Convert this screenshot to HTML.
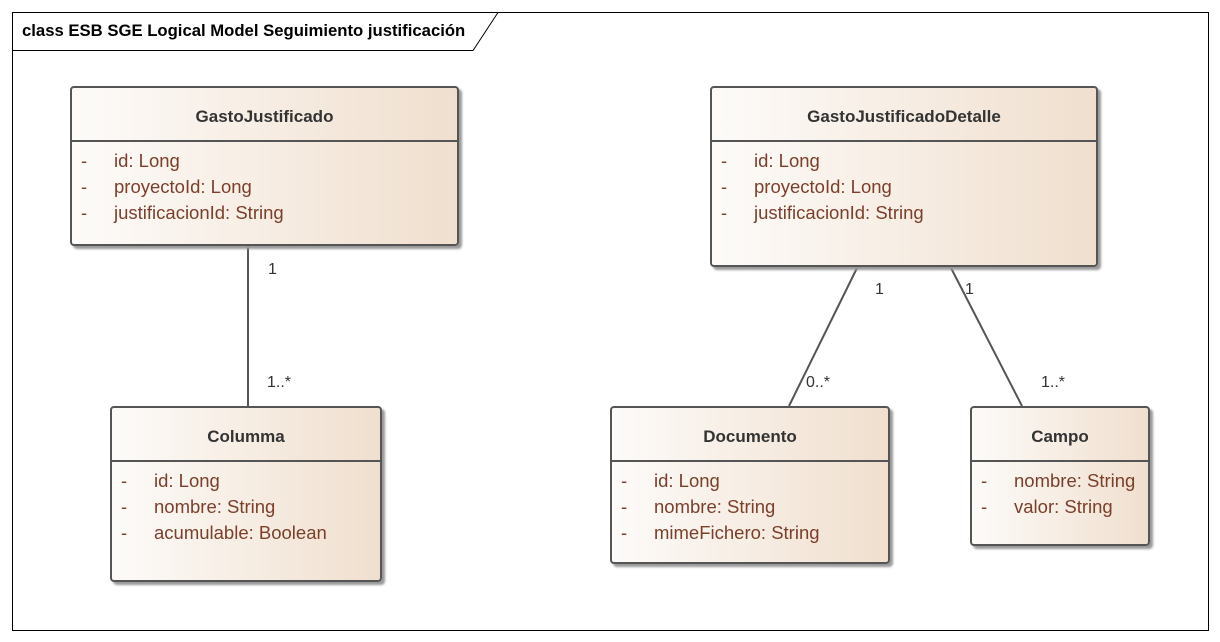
<!DOCTYPE html>
<html><head><meta charset="utf-8"><style>
body{margin:0;width:1220px;height:642px;background:#fff;font-family:"Liberation Sans",sans-serif;position:relative;overflow:hidden}
.box{position:absolute;border:2px solid #555;border-radius:4px;background:linear-gradient(to right,#fdfbf9,#f0dfce);box-shadow:3px 3px 2px #999;box-sizing:border-box}
.hd{height:54px;border-bottom:2px solid #555;display:flex;align-items:center;justify-content:center;font-weight:bold;font-size:17px;color:#333;box-sizing:border-box;padding-top:6px}
.at{font-size:18.5px;color:#7b3f2a;line-height:26px;padding-top:6px}
.at div{position:relative;padding-left:42px}
.at div:before{content:"-";position:absolute;left:9px}
.lb{position:absolute;font-size:16px;color:#333}
</style></head><body>
<svg width="1220" height="642" style="position:absolute;left:0;top:0">
<rect x="12.5" y="12.5" width="1196" height="618" fill="none" stroke="#000" stroke-width="1"/>
<polyline points="12.5,50.5 473,50.5 498,12.5" fill="none" stroke="#000" stroke-width="1"/>
<line x1="248" y1="245" x2="248" y2="406" stroke="#555" stroke-width="2"/>
<line x1="858" y1="266" x2="789" y2="406" stroke="#555" stroke-width="2"/>
<line x1="950" y1="266" x2="1022" y2="406" stroke="#555" stroke-width="2"/>
</svg>
<div style="position:absolute;left:22px;top:21px;font-weight:bold;font-size:16.7px">class ESB SGE Logical Model Seguimiento justificación</div>
<div class="box" style="left:70px;top:86px;width:389px;height:160px"><div class="hd">GastoJustificado</div><div class="at"><div>id: Long</div><div>proyectoId: Long</div><div>justificacionId: String</div></div></div>
<div class="box" style="left:710px;top:86px;width:388px;height:181px"><div class="hd">GastoJustificadoDetalle</div><div class="at"><div>id: Long</div><div>proyectoId: Long</div><div>justificacionId: String</div></div></div>
<div class="box" style="left:110px;top:406px;width:272px;height:176px"><div class="hd">Columma</div><div class="at"><div>id: Long</div><div>nombre: String</div><div>acumulable: Boolean</div></div></div>
<div class="box" style="left:610px;top:406px;width:280px;height:158px"><div class="hd">Documento</div><div class="at"><div>id: Long</div><div>nombre: String</div><div>mimeFichero: String</div></div></div>
<div class="box" style="left:970px;top:406px;width:180px;height:140px"><div class="hd">Campo</div><div class="at"><div>nombre: String</div><div>valor: String</div></div></div>
<div class="lb" style="left:268px;top:261px">1</div>
<div class="lb" style="left:267px;top:374px">1..*</div>
<div class="lb" style="left:875px;top:281px">1</div>
<div class="lb" style="left:806px;top:374px">0..*</div>
<div class="lb" style="left:965px;top:281px">1</div>
<div class="lb" style="left:1041px;top:374px">1..*</div>
</body></html>
